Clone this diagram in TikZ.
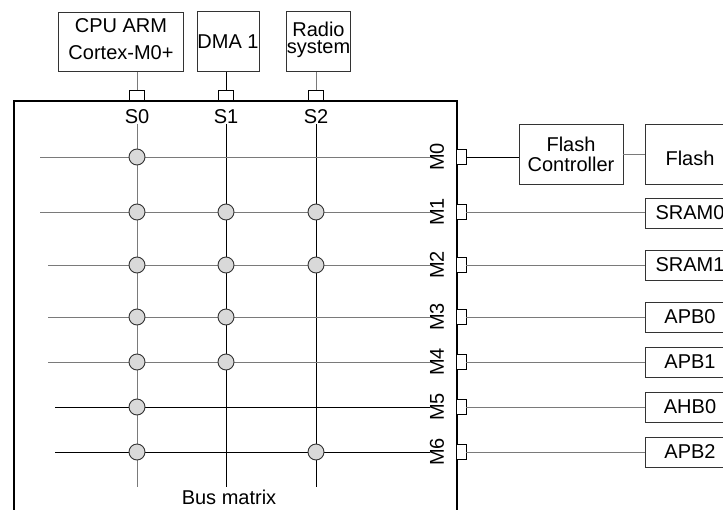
\documentclass[tikz,border=0pt]{standalone}
\usepackage{fontspec}
\setmainfont{Liberation Sans}
\usetikzlibrary{positioning}
\definecolor{WireGray}{HTML}{7A7A7A}
\definecolor{EdgeGray}{HTML}{333333}
\definecolor{JointFill}{HTML}{D9D9D9}

\begin{document}
\begin{tikzpicture}[
    x=1pt, y=-1pt,
    font=\fontsize{20}{24}\selectfont,
    unit/.style={rectangle, draw=EdgeGray, line width=0.9pt, inner sep=0pt, align=center},
    sport/.style={rectangle, draw=black, fill=white, line width=0.9pt, minimum width=15pt, minimum height=10pt, inner sep=0pt},
    mport/.style={rectangle, draw=black, fill=white, line width=0.9pt, minimum width=10pt, minimum height=15pt, inner sep=0pt},
    tag/.style={inner sep=0pt},
    joint/.style={circle, draw=EdgeGray, fill=JointFill, line width=0.9pt, minimum size=16pt, inner sep=0pt},
    wire/.style={line width=0.9pt, color=WireGray},
    bwire/.style={line width=0.9pt, color=black}
]
    \useasboundingbox (0,0) rectangle (723,509);
    \clip (0,0) rectangle (723,509);

    % Masters
    \node[unit, minimum width=125pt, minimum height=59pt, text depth=5pt] (cpu) at (121,42) {CPU ARM\\[3pt]Cortex-M0+};
    \node[unit, minimum width=62pt, minimum height=60pt] (dma) at (228,41.5) {DMA 1};
    \node[unit, minimum width=63pt, minimum height=60pt, text depth=7pt] (radio) at (318.5,41.5) {Radio\\[-7pt]system};

    % Bus matrix frame
    \node[draw, line width=1.6pt, minimum width=443pt, minimum height=440pt, inner sep=0pt, anchor=north west] (bus) at (13,100) {};
    \node[tag] (busname) at (229,497.5) {Bus matrix};

    % Slave ports
    \node[sport] (ps0) at (137,95) {};
    \node[sport] (ps1) at (226,95) {};
    \node[sport] (ps2) at (316,95) {};
    \node[tag] (s0) at (137,116.5) {S0};
    \node[tag] (s1) at (226,116.5) {S1};
    \node[tag] (s2) at (316,116.5) {S2};
    \coordinate (bot) at (0,487);

    % Master ports
    \node[tag, rotate=90] (m0) at (437,157) {M0};
    \node[tag, rotate=90] (m1) at (437,212) {M1};
    \node[tag, rotate=90] (m2) at (437,265) {M2};
    \node[tag, rotate=90] (m3) at (437,317) {M3};
    \node[tag, rotate=90] (m4) at (437,362) {M4};
    \node[tag, rotate=90] (m5) at (437,407) {M5};
    \node[tag, rotate=90] (m6) at (437,452) {M6};
    \coordinate (r0) at (40,157);
    \coordinate (r1) at (40,212);
    \coordinate (r2) at (48,265);
    \coordinate (r3) at (48,317);
    \coordinate (r4) at (48,362);
    \coordinate (r5) at (55,407);
    \coordinate (r6) at (55,452);
    \node[mport] (pm0) at (461,157) {};
    \node[mport] (pm1) at (461,212) {};
    \node[mport] (pm2) at (461,265) {};
    \node[mport] (pm3) at (461,317) {};
    \node[mport] (pm4) at (461,362) {};
    \node[mport] (pm5) at (461,407) {};
    \node[mport] (pm6) at (461,452) {};

    % Slaves
    \node[unit, minimum width=104pt, minimum height=60pt] (fc) at (571,154) {Flash\\[-4pt]Controller};
    \node[unit, minimum width=90pt, minimum height=60pt, text height=24pt] (flash) at (690,154) {Flash};
    \node[unit, minimum width=90pt, minimum height=30pt] (sram0) at (690,213) {SRAM0};
    \node[unit, minimum width=90pt, minimum height=30pt] (sram1) at (690,265) {SRAM1};
    \node[unit, minimum width=90pt, minimum height=30pt] (apb0) at (690,317) {APB0};
    \node[unit, minimum width=90pt, minimum height=30pt] (apb1) at (690,362) {APB1};
    \node[unit, minimum width=90pt, minimum height=30pt] (ahb0) at (690,407) {AHB0};
    \node[unit, minimum width=90pt, minimum height=30pt] (apb2) at (690,452) {APB2};

    % Connections
    \draw[wire] (ps0.north |- cpu.south) -- (ps0.north);
    \draw[bwire] (ps1.north |- dma.south) -- (ps1.north);
    \draw[wire] (ps2.north |- radio.south) -- (ps2.north);
    \draw[wire] (s0.south) -- (s0 |- bot);
    \draw[bwire] (s1.south) -- (s1 |- bot);
    \draw[bwire] (s2.south) -- (s2 |- bot);
    \draw[wire] (r0) -- (m0.north);
    \draw[wire] (r1) -- (m1.north);
    \draw[wire] (r2) -- (m2.north);
    \draw[wire] (r3) -- (m3.north);
    \draw[wire] (r4) -- (m4.north);
    \draw[bwire] (r5) -- (m5.north);
    \draw[bwire] (r6) -- (m6.north);
    \draw[bwire] (pm0) -- (pm0 -| fc.west);
    \draw[wire] (fc) -- (flash);
    \draw[wire] (pm1) -- (pm1 -| sram0.west);
    \draw[wire] (pm2) -- (pm2 -| sram1.west);
    \draw[wire] (pm3) -- (pm3 -| apb0.west);
    \draw[wire] (pm4) -- (pm4 -| apb1.west);
    \draw[wire] (pm5) -- (pm5 -| ahb0.west);
    \draw[wire] (pm6) -- (pm6 -| apb2.west);

    % Crosspoints
    \node[joint] at (s0 |- r0) {};
    \node[joint] at (s0 |- r1) {};
    \node[joint] at (s1 |- r1) {};
    \node[joint] at (s2 |- r1) {};
    \node[joint] at (s0 |- r2) {};
    \node[joint] at (s1 |- r2) {};
    \node[joint] at (s2 |- r2) {};
    \node[joint] at (s0 |- r3) {};
    \node[joint] at (s1 |- r3) {};
    \node[joint] at (s0 |- r4) {};
    \node[joint] at (s1 |- r4) {};
    \node[joint] at (s0 |- r5) {};
    \node[joint] at (s0 |- r6) {};
    \node[joint] at (s2 |- r6) {};
\end{tikzpicture}
\end{document}
